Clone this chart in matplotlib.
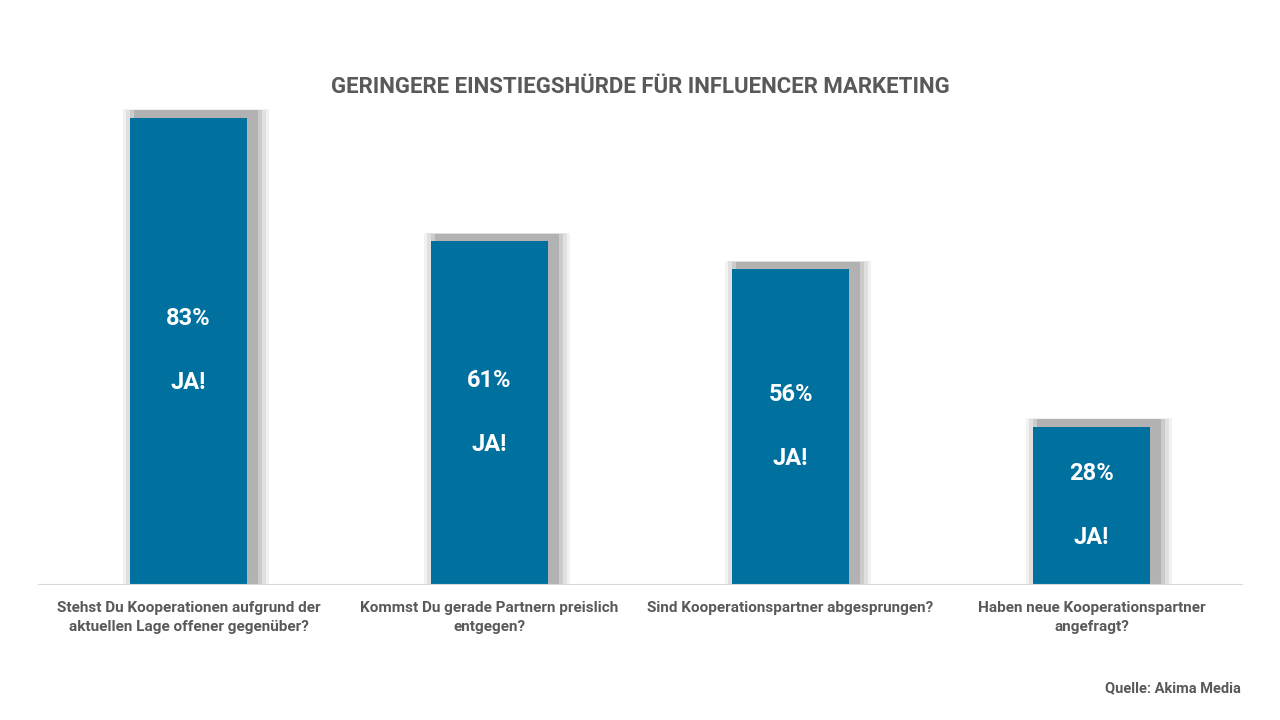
import matplotlib
matplotlib.use("Agg")
import matplotlib.pyplot as plt
from matplotlib.patches import Rectangle

categories = ["Stehst Du Kooperationen aufgrund der\naktuellen Lage offener gegenüber?",
              "Kommst Du gerade Partnern preislich\nentgegen?",
              "Sind Kooperationspartner abgesprungen?",
              "Haben neue Kooperationspartner\nangefragt?"]
values = [83, 61, 56, 28]
labels = ["83%", "61%", "56%", "28%"]

plt.rcParams["font.family"] = "Roboto"
fig = plt.figure(figsize=(12.8, 7.2), dpi=100)
ax = fig.add_axes([38/1280, 136/720, 1204/1280, 562/720])
x = list(range(len(values)))
w = 0.39
# soft shadow
for i, v in zip(x, values):
    for k, a in enumerate([0.05, 0.07, 0.09, 0.12]):
        d = 0.012 * (4 - k)
        ax.add_patch(Rectangle((i - w/2 + 0.025 - d, 0), w + 2*d, v + 1.2 + d*6,
                               color="#000000", alpha=a, lw=0, zorder=1))
ax.bar(x, values, width=w, color="#00709E", zorder=2)
for i, v, l in zip(x, values, labels):
    ax.annotate(l, (i, v/2), xytext=(0, 23), textcoords="offset points", ha="center", va="center",
                color="white", fontsize=17, fontweight="bold", zorder=3)
    ax.annotate("JA!", (i, v/2), xytext=(0, -23), textcoords="offset points", ha="center", va="center",
                color="white", fontsize=17, fontweight="bold", zorder=3)
ax.set_xlim(-0.5, 3.5)
ax.set_ylim(0, 100)
ax.set_yticks([])
ax.set_xticks(x)
ax.set_xticklabels(categories, fontsize=11, fontweight="bold", color="#595959", linespacing=1.5)
ax.tick_params(axis="x", length=0, pad=12)
for s in ["top", "left", "right"]:
    ax.spines[s].set_visible(False)
ax.spines["bottom"].set_color("#D9D9D9")
fig.text(0.5, 1 - 87/720, "GERINGERE EINSTIEGSHÜRDE FÜR INFLUENCER MARKETING", ha="center", va="center",
         fontsize=16, fontweight="bold", color="#595959")
fig.text(1241/1280, 1 - 688/720, "Quelle: Akima Media", ha="right", va="center",
         fontsize=10.5, fontweight="bold", color="#595959")
fig.savefig("out.png")
